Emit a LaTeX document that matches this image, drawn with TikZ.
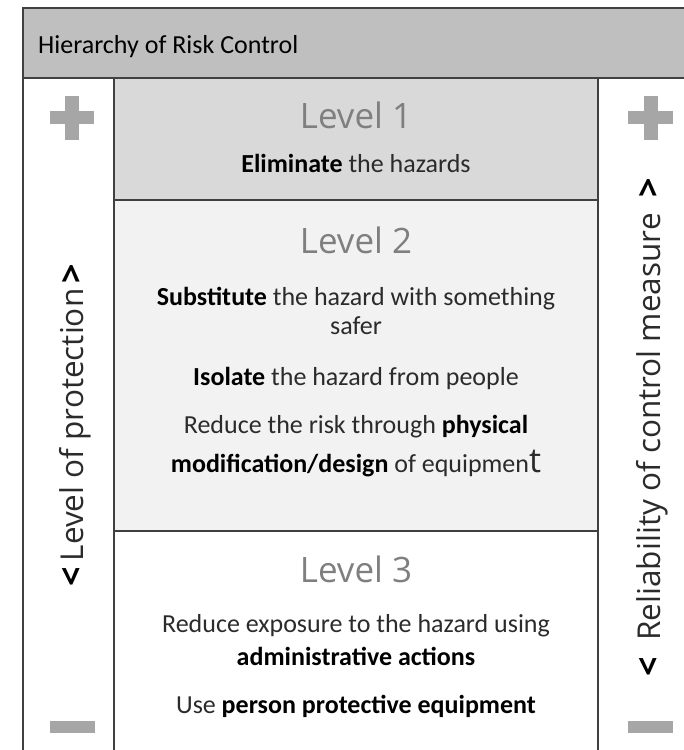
\documentclass[tikz,border=0pt]{standalone}
\usepackage{fontspec}
\setmainfont{Carlito}
\newfontfamily\lightfont{Open Sans}
\definecolor{hdrgray}{HTML}{BFBFBF}
\definecolor{lvlone}{HTML}{D9D9D9}
\definecolor{lvltwo}{HTML}{F2F2F2}
\definecolor{framegray}{HTML}{404040}
\definecolor{levelgray}{HTML}{7F7F7F}
\definecolor{icongray}{HTML}{A6A6A6}
\definecolor{bodytext}{HTML}{2B2B2B}
\newcommand{\bb}[1]{{\bfseries\color{black}#1}}
\newcommand{\chev}[1]{{\lightfont\bfseries\fontsize{34}{34}\selectfont\color{black}#1}}
\begin{document}
\begin{tikzpicture}[x=1pt,y=-1pt,
  frame/.style={draw=framegray, line width=1.3pt},
  icon/.style={fill=icongray, draw=none},
  lvltitle/.style={font=\lightfont\fontsize{35}{40}\selectfont, text=levelgray, anchor=base, inner sep=0pt},
  body/.style={font=\fontsize{26}{30}\selectfont, text=bodytext, anchor=base, inner sep=0pt},
  side/.style={font=\lightfont\fontsize{31.5}{36}\selectfont, text=bodytext, rotate=90, inner sep=0pt},
  titletext/.style={font=\fontsize{26}{30}\selectfont, text=black, anchor=base west, inner sep=0pt}]
\useasboundingbox (0,0) rectangle (684,750);
% fills
\path[fill=hdrgray] (23,8) rectangle (700,78);
\path[fill=lvlone] (114,78) rectangle (598,200);
\path[fill=lvltwo] (114,200) rectangle (598,531);
% frame lines
\draw[frame] (700,8) -- (23,8) -- (23,760);
\draw[frame] (23,78) -- (700,78);
\draw[frame] (114,78) -- (114,760);
\draw[frame] (598,78) -- (598,760);
\draw[frame] (114,200) -- (598,200);
\draw[frame] (114,531) -- (598,531);
% icons
\path[icon] (50,111) rectangle (94,124);
\path[icon] (65,96) rectangle (79,140);
\path[icon] (628,111) rectangle (673,124);
\path[icon] (644,96) rectangle (658,140);
\path[icon] (50,721) rectangle (95,733);
\path[icon] (628,721) rectangle (673,733);
% title
\node[titletext] (title) at (38,53) {Hierarchy of Risk Control};
% level 1
\node[lvltitle] (l1) at (356,128) {Level 1};
\node[body] (l1a) at (356,172) {\bb{Eliminate} the hazards};
% level 2
\node[lvltitle] (l2) at (356,253) {Level 2};
\node[body] (l2a) at (356,305) {\bb{Substitute} the hazard with something};
\node[body] (l2b) at (356,334) {safer};
\node[body] (l2c) at (356,385) {\bb{Isolate} the hazard from people};
\node[body] (l2d) at (356,433) {Reduce the risk through \bb{physical}};
\node[body] (l2e) at (356,472) {\bb{modification/design} of equipmen{\lightfont\fontsize{34}{34}\selectfont t}};
% level 3
\node[lvltitle] (l3) at (356,582) {Level 3};
\node[body] (l3a) at (356,632) {Reduce exposure to the hazard using};
\node[body] (l3b) at (356,665) {\bb{administrative actions}};
\node[body] (l3c) at (356,713) {Use \bb{person protective equipment}};
% side labels
\node[side] (left) at (75,425) {\chev{<}\,Level of protection\,\chev{>}};
\node[side] (right) at (652,427) {\chev{<}\hspace{16pt}Reliability of control measure\hspace{16pt}\chev{>}};
\end{tikzpicture}
\end{document}
